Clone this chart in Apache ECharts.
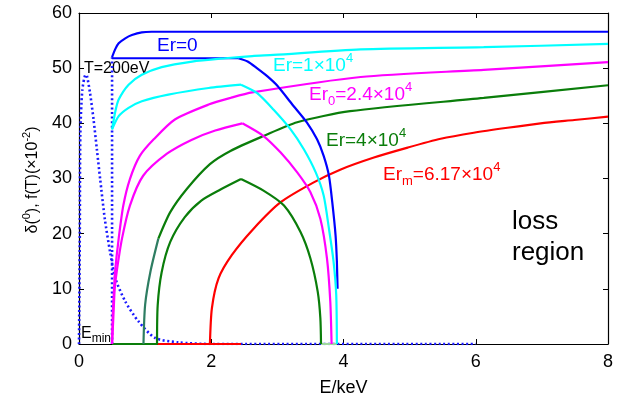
<!DOCTYPE html>
<html>
<head>
<meta charset="utf-8">
<script src="https://cdn.jsdelivr.net/npm/echarts@6/dist/echarts.min.js"></script>
<style>
  html, body { margin: 0; padding: 0; background: #fff; }
  #chart { width: 625px; height: 402px; }
</style>
</head>
<body>
<div id="chart"></div>
<script>
/* axis ticks */
var xTicks = [0, 2, 4, 6, 8];
var yTicks = [0, 10, 20, 30, 40, 50, 60];

/* Er = 0 (blue): passing curve, trapped boundary (flat part + falling arc) */
var er0Pass = [[0.5,52],[0.55,53.5],[0.6,54.5],[0.7,55.4],[0.8,56],[0.95,56.5],[1.1,56.6],[8,56.6]];
var er0TrapFlat = [[0.5,51.8],[2.41,51.8]];
var er0TrapFall = [[2.41,51.8],[2.55,51.2],[2.69,50],[2.85,48.5],[3.0,46.8],[3.22,43.5],[3.45,40.1],[3.6,37.1],
    [3.7,34.1],[3.78,30.5],[3.83,25.7],[3.88,19.7],[3.9,14.9],[3.91,10]];

/* Er = 1e4 (cyan) */
var er1Pass = [[0.5,38.9],[0.55,42.2],[0.6,44.3],[0.75,47],[0.95,48.8],[1.25,50.2],[1.71,51.2],[2.21,51.8],
    [2.62,52.2],[2.94,52.4],[4.26,53.4],[6.12,53.8],[8,54.4]];
var er1TrapRise = [[0.5,38.9],[0.6,41.3],[0.75,42.8],[0.95,44],[1.35,45.2],[1.96,46.4],[2.45,47]];
var er1TrapFall = [[2.45,47],[2.69,45.5],[2.94,42.5],[3.2,38.9],[3.4,35.3],[3.58,31.1],[3.7,26.9],
    [3.78,20.9],[3.85,14.9],[3.89,8.9],[3.9,0]];

/* Er0 = 2.4e4 (magenta) */
var er2Pass = [[0.5,0],[0.51,5],[0.53,10],[0.545,13.1],[0.6,19.1],[0.67,25.1],[0.77,29.9],[0.92,34.1],
    [1.13,37.1],[1.45,40.7],[1.96,43.4],[2.29,44.6],[2.62,45.6],[4.26,48.4],[6.12,49.7],[8,51.1]];
var er2TrapRise = [[0.5,0],[0.52,5],[0.54,10],[0.57,13.1],[0.65,19.1],[0.77,25.1],[0.97,30.5],[1.33,34.5],
    [1.7,37],[2.06,38.7],[2.47,40]];
var er2TrapFall = [[2.47,40],[2.79,37.7],[3.05,34.7],[3.3,31.1],[3.5,27.5],[3.65,22.7],[3.75,15.5],
    [3.8,7.7],[3.82,0]];

/* Er = 4e4 (green) */
var er4PassFoot = [[0.975,0],[1.0,7.1],[1.08,13.1],[1.2,19.1]];
var er4Pass = [[1.2,19.1],[1.38,23.9],[1.63,28.1],[1.98,32.6],[2.29,35],[2.79,37.7],[3.3,40.2],[4.1,42.2],
    [6.12,44.6],[8,46.9]];
var er4TrapRise = [[1.18,0],[1.19,7],[1.25,13],[1.38,18.5],[1.6,23],[1.85,26],[2.14,28],[2.45,29.9]];
var er4TrapFall = [[2.45,29.9],[2.79,27.8],[3.1,25.1],[3.35,20.3],[3.5,15.5],[3.61,9.5],
    [3.65,4.7],[3.66,0]];

/* Erm = 6.17e4 (red) */
var ermPass = [[1.98,0],[2.01,6.5],[2.11,11.9],[2.31,16.1],[2.64,20.9],[3.05,25.7],[3.55,29.3],[3.95,31.6],
    [4.46,33.8],[4.97,35.6],[5.47,37.2],[5.97,38.3],[6.48,39.2],[6.98,40],[7.49,40.6],[8,41.2]];

/* bottom pieces */
var greenBase = [[0.5,0],[1.19,0]];
var redBase = [[1.19,0],[2.45,0]];
var paleBase = [[3.66,0],[3.9,0]];

/* f(T), T = 200 eV (dotted) */
var fT = [[0,0],[0.012,20],[0.02,38],[0.05,46],[0.1,48.8],[0.12,48.6],[0.167,45.5],[0.22,40.7],[0.27,35.3],
    [0.32,29.9],[0.39,22.7],[0.47,16.7],[0.55,11.9],[0.7,7.7],[0.9,4.1],[1.15,1.1],[1.5,0.3],[2,0],[6,0]];
var eMinLine = [[0.5,0],[0.5,52]];

var FONT = '"Liberation Sans", Arial, Helvetica, sans-serif';

function line(data, color, smooth, width, type) {
    return {
        type: 'line',
        data: data,
        showSymbol: false,
        symbol: 'none',
        smooth: smooth || false,
        silent: true,
        lineStyle: { color: color, width: width || 2.2, type: type || 'solid' },
        z: 2
    };
}

function axisBase(pos, showLabel, isX) {
    return {
        type: 'value',
        position: pos,
        min: 0,
        max: isX ? xTicks[xTicks.length - 1] : yTicks[yTicks.length - 1],
        interval: isX ? xTicks[1] - xTicks[0] : yTicks[1] - yTicks[0],
        axisLine: { show: true, onZero: false, lineStyle: { color: '#000', width: 1.2 } },
        axisTick: { show: true, inside: true, length: 5, lineStyle: { color: '#000', width: 1 } },
        splitLine: { show: false },
        axisLabel: {
            show: showLabel,
            color: '#000',
            fontSize: 18,
            fontFamily: FONT,
            margin: isX ? 9 : 7
        }
    };
}

var xBottom = axisBase('bottom', true, true);
xBottom.name = 'E/keV';
xBottom.nameLocation = 'middle';
xBottom.nameGap = 35;
xBottom.nameTextStyle = { color: '#000', fontSize: 18, fontFamily: FONT };

function label(x, y, text, color) {
    return {
        type: 'text',
        x: x,
        y: y,
        silent: true,
        style: {
            text: text,
            fill: color,
            verticalAlign: 'top',
            rich: {
                m: { fontSize: 19, fontFamily: FONT, fill: color, lineHeight: 27 },
                sup: { fontSize: 13, fontFamily: FONT, fill: color, verticalAlign: 'top', lineHeight: 13 },
                sub: { fontSize: 13, fontFamily: FONT, fill: color, verticalAlign: 'bottom', lineHeight: 13 }
            }
        }
    };
}

var chart = echarts.init(document.getElementById('chart'), null, { renderer: 'canvas' });

var S = 0.25;
var option = {
    animation: false,
    backgroundColor: '#fff',
    grid: { left: 79, right: 17, top: 13, bottom: 56 },
    xAxis: [xBottom, axisBase('top', false, true)],
    yAxis: [axisBase('left', true, false), axisBase('right', false, false)],
    series: [
        line(fT, '#1a1aff', S, 2.6, [2, 2.6]),
        line(eMinLine, '#1a1aff', false, 2.6, [2, 2.6]),
        line(greenBase, '#0a7d0a'),
        line(redBase, '#ff0000'),
        line(paleBase, '#9fd89f'),
        line(ermPass, '#ff0000', S),
        line(er4PassFoot, '#2e7d62', S),
        line(er4Pass, '#0a7d0a', S),
        line(er4TrapRise, '#0a7d0a', S),
        line(er4TrapFall, '#0a7d0a', S),
        line(er2Pass, '#ff00ff', S),
        line(er2TrapRise, '#ff00ff', S),
        line(er2TrapFall, '#ff00ff', S),
        line(er0Pass, '#0000ff', S),
        line(er0TrapFlat, '#0000ff'),
        line(er0TrapFall, '#0000ff', S),
        line(er1Pass, '#00ffff', S),
        line(er1TrapRise, '#00ffff', S),
        line(er1TrapFall, '#00ffff', S)
    ],
    graphic: [
        label(157, 32, '{m|Er=0}', '#0000ff'),
        label(273, 52, '{m|Er=1×10}{sup|4}', '#00ffff'),
        label(309, 81, '{m|Er}{sub|0}{m|=2.4×10}{sup|4}', '#ff00ff'),
        label(326, 127, '{m|Er=4×10}{sup|4}', '#0a7d0a'),
        label(383, 161, '{m|Er}{sub|m}{m|=6.17×10}{sup|4}', '#ff0000'),
        {
            type: 'text', x: 512, y: 206, silent: true,
            style: { text: 'loss\nregion', fill: '#000', font: '26px ' + FONT, lineHeight: 31, verticalAlign: 'top' }
        },
        {
            type: 'text', x: 84, y: 61, silent: true,
            style: { text: 'T=200eV', fill: '#000', font: '16px ' + FONT, verticalAlign: 'top' }
        },
        {
            type: 'text', x: 81, y: 323, silent: true,
            style: {
                text: '{e|E}{s|min}', verticalAlign: 'top',
                rich: {
                    e: { fontSize: 16, fontFamily: FONT, fill: '#000', lineHeight: 22 },
                    s: { fontSize: 12, fontFamily: FONT, fill: '#000', verticalAlign: 'bottom', lineHeight: 12 }
                }
            }
        },
        {
            type: 'text', x: 33, y: 180, rotation: Math.PI / 2, silent: true,
            style: {
                text: '{m|δ(}{sup|0}{m|), f(T)(×10}{sup|-2}{m|)}',
                align: 'center', verticalAlign: 'middle',
                rich: {
                    m: { fontSize: 16, fontFamily: FONT, fill: '#000', lineHeight: 23 },
                    sup: { fontSize: 11, fontFamily: FONT, fill: '#000', verticalAlign: 'top', lineHeight: 11 }
                }
            }
        }
    ]
};

chart.setOption(option);
</script>
</body>
</html>
